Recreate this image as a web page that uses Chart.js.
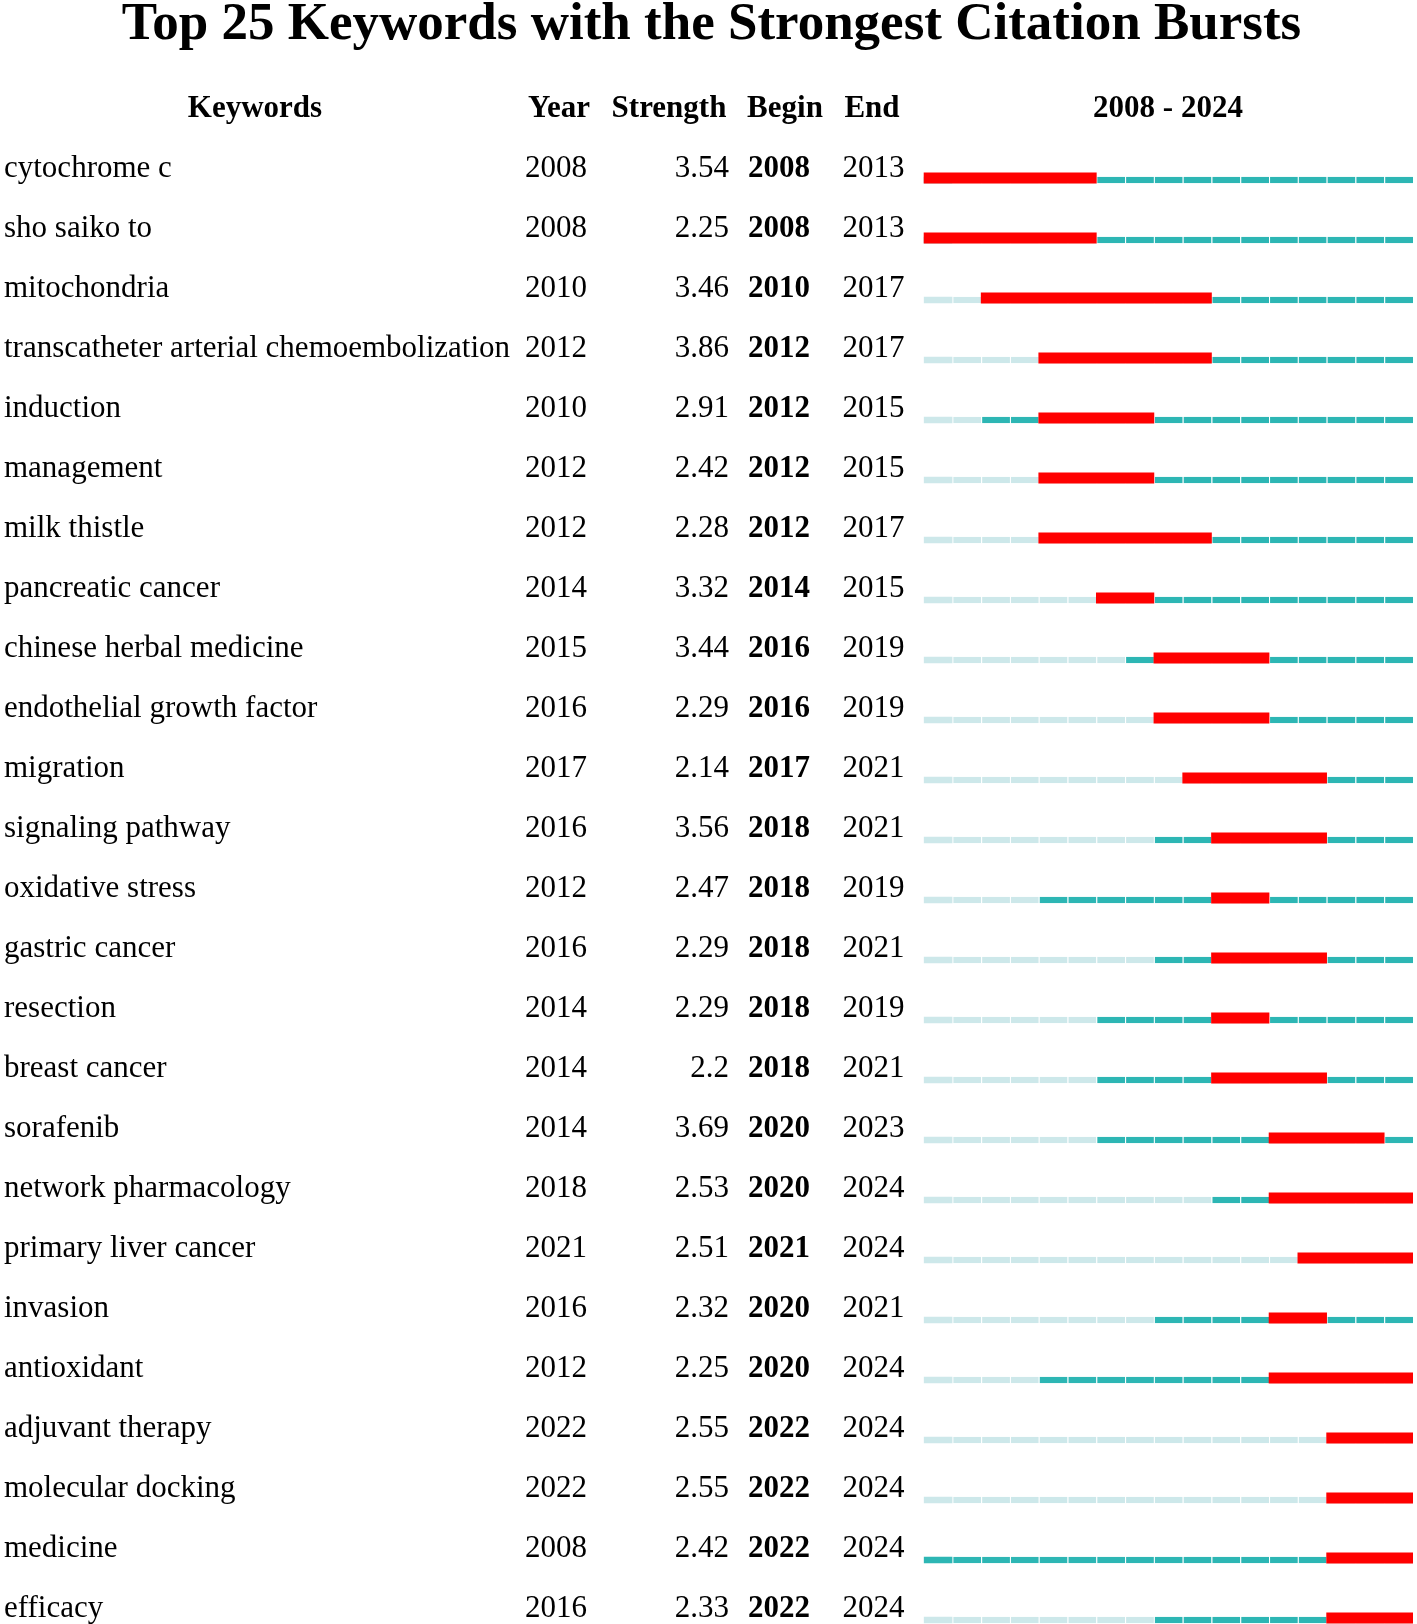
<!DOCTYPE html>
<html>
<head>
<meta charset="utf-8">
<script src="https://cdn.jsdelivr.net/npm/chart.js@4.4.1/dist/chart.umd.min.js"></script>
<style>
  html, body { margin: 0; padding: 0; background: #fff; overflow: hidden; }
  #wrap { position: relative; width: 1417px; height: 1660px; }
  #c { display: block; position: absolute; left: 0; top: 0; }
  .txt { position: absolute; font-family: 'Liberation Serif', 'Times New Roman', serif; color: #000; white-space: nowrap; }
  .title { left: 3px; width: 1417px; text-align: center; top: -5px; font-size: 53px; line-height: 53px; font-weight: bold; }
  .hdr { top: 91px; font-size: 31px; line-height: 31px; font-weight: bold; transform: translateX(-50%); }
</style>
</head>
<body>
<div id="wrap">
  <canvas id="c" width="1417" height="1660"></canvas>
  <div class="txt title" id="title"></div>
</div>
<script>
const titleText = 'Top 25 Keywords with the Strongest Citation Bursts';
const headers = ['Keywords', 'Year', 'Strength', 'Begin', 'End', '2008 - 2024'];
const firstYear = 2008;
const lastYear = 2024;

const keywords = [
  'cytochrome c', 'sho saiko to', 'mitochondria', 'transcatheter arterial chemoembolization',
  'induction', 'management', 'milk thistle', 'pancreatic cancer', 'chinese herbal medicine',
  'endothelial growth factor', 'migration', 'signaling pathway', 'oxidative stress',
  'gastric cancer', 'resection', 'breast cancer', 'sorafenib', 'network pharmacology',
  'primary liver cancer', 'invasion', 'antioxidant', 'adjuvant therapy', 'molecular docking',
  'medicine', 'efficacy'
];
const years = [2008, 2008, 2010, 2012, 2010, 2012, 2012, 2014, 2015, 2016, 2017, 2016, 2012,
  2016, 2014, 2014, 2014, 2018, 2021, 2016, 2012, 2022, 2022, 2008, 2016];
const strengths = ['3.54', '2.25', '3.46', '3.86', '2.91', '2.42', '2.28', '3.32', '3.44', '2.29',
  '2.14', '3.56', '2.47', '2.29', '2.29', '2.2', '3.69', '2.53', '2.51', '2.32', '2.25', '2.55',
  '2.55', '2.42', '2.33'];
const begins = [2008, 2008, 2010, 2012, 2012, 2012, 2012, 2014, 2016, 2016, 2017, 2018, 2018,
  2018, 2018, 2018, 2020, 2020, 2021, 2020, 2020, 2022, 2022, 2022, 2022];
const ends = [2013, 2013, 2017, 2017, 2015, 2015, 2017, 2015, 2019, 2019, 2021, 2021, 2019,
  2021, 2019, 2021, 2023, 2024, 2024, 2021, 2024, 2024, 2024, 2024, 2024];

// HTML title + headers
document.getElementById('title').textContent = titleText;
const headerCenters = [255, 559, 669, 785, 872, 1168];
const wrap = document.getElementById('wrap');
headers.forEach((h, i) => {
  const d = document.createElement('div');
  d.className = 'txt hdr';
  d.style.left = headerCenters[i] + 'px';
  d.textContent = h;
  wrap.appendChild(d);
});

const RED = '#ff0000';
const DARK = '#2db6b4';
const LIGHT = '#cde8ea';
const DIVIDER = 'rgba(255,255,255,0.22)';

// one timeline segment per year; colour depends on the keyword's first-appearance year
const segmentYears = [];
for (let y = firstYear; y <= lastYear; y++) segmentYears.push(y);

const burstData = begins.map((b, i) => [b, ends[i] + 1]);

const rowFont = { family: "'Liberation Serif', 'Times New Roman', serif", size: 31 };
const rowFontBold = { family: "'Liberation Serif', 'Times New Roman', serif", size: 31, weight: 'bold' };
const LABEL_OFF = -9.5;
const TEAL_SHIFT = 2 / 60; // teal line sits at the bottom edge of the burst bar

function colAxis(labels, width, weight, crossAlign, padding, font) {
  return {
    type: 'category',
    position: 'left',
    labels: labels,
    offset: true,
    weight: weight,
    grid: { display: false, drawTicks: false },
    border: { display: false },
    ticks: {
      autoSkip: false,
      crossAlign: crossAlign,
      padding: padding,
      labelOffset: LABEL_OFF,
      color: '#000',
      font: font
    },
    afterFit: s => { s.width = width; s.paddingTop = 0; s.paddingBottom = 0; }
  };
}

const segmentDatasets = segmentYears.map(sy => ({
  label: 'seg ' + sy,
  xAxisID: 'x',
  yAxisID: 'yT',
  data: keywords.map((k, i) => ({ x: [sy, sy + 1], y: i })),
  backgroundColor: ctx => (sy < years[ctx.dataIndex] ? LIGHT : DARK),
  borderColor: DIVIDER,
  borderWidth: { left: sy === firstYear ? 0 : 1, top: 0, right: 0, bottom: 0 },
  borderSkipped: false,
  inflateAmount: 0,
  grouped: false,
  barThickness: 6.5,
  order: 1
}));

new Chart(document.getElementById('c'), {
  type: 'bar',
  data: {
    labels: keywords,
    datasets: [
      { label: 'burst', xAxisID: 'x', yAxisID: 'y', data: burstData, backgroundColor: RED, grouped: false, barThickness: 10.5, order: 0, borderWidth: 0 }
    ].concat(segmentDatasets)
  },
  options: {
    indexAxis: 'y',
    responsive: false,
    animation: false,
    layout: { padding: { top: 148, bottom: 12, left: 4, right: 4 } },
    plugins: { legend: { display: false }, tooltip: { enabled: false }, title: { display: false } },
    scales: {
      y: colAxis(keywords, 517, 5, 'far', 0, rowFont),
      yYear: colAxis(years.map(String), 76, 4, 'near', 10, rowFont),
      yStrength: colAxis(strengths, 142, 3, 'near', 10, rowFont),
      yBegin: colAxis(begins.map(String), 81, 2, 'near', 10, rowFontBold),
      yEnd: colAxis(ends.map(String), 103.6, 1, 'near', 19, rowFont),
      x: { type: 'linear', min: firstYear, max: lastYear + 1, display: false },
      yT: {
        type: 'linear', axis: 'y', display: false, reverse: true, offset: false,
        min: -0.5 - TEAL_SHIFT, max: keywords.length - 0.5 - TEAL_SHIFT,
        grace: 0, bounds: 'data'
      }
    }
  }
});
</script>
</body>
</html>
